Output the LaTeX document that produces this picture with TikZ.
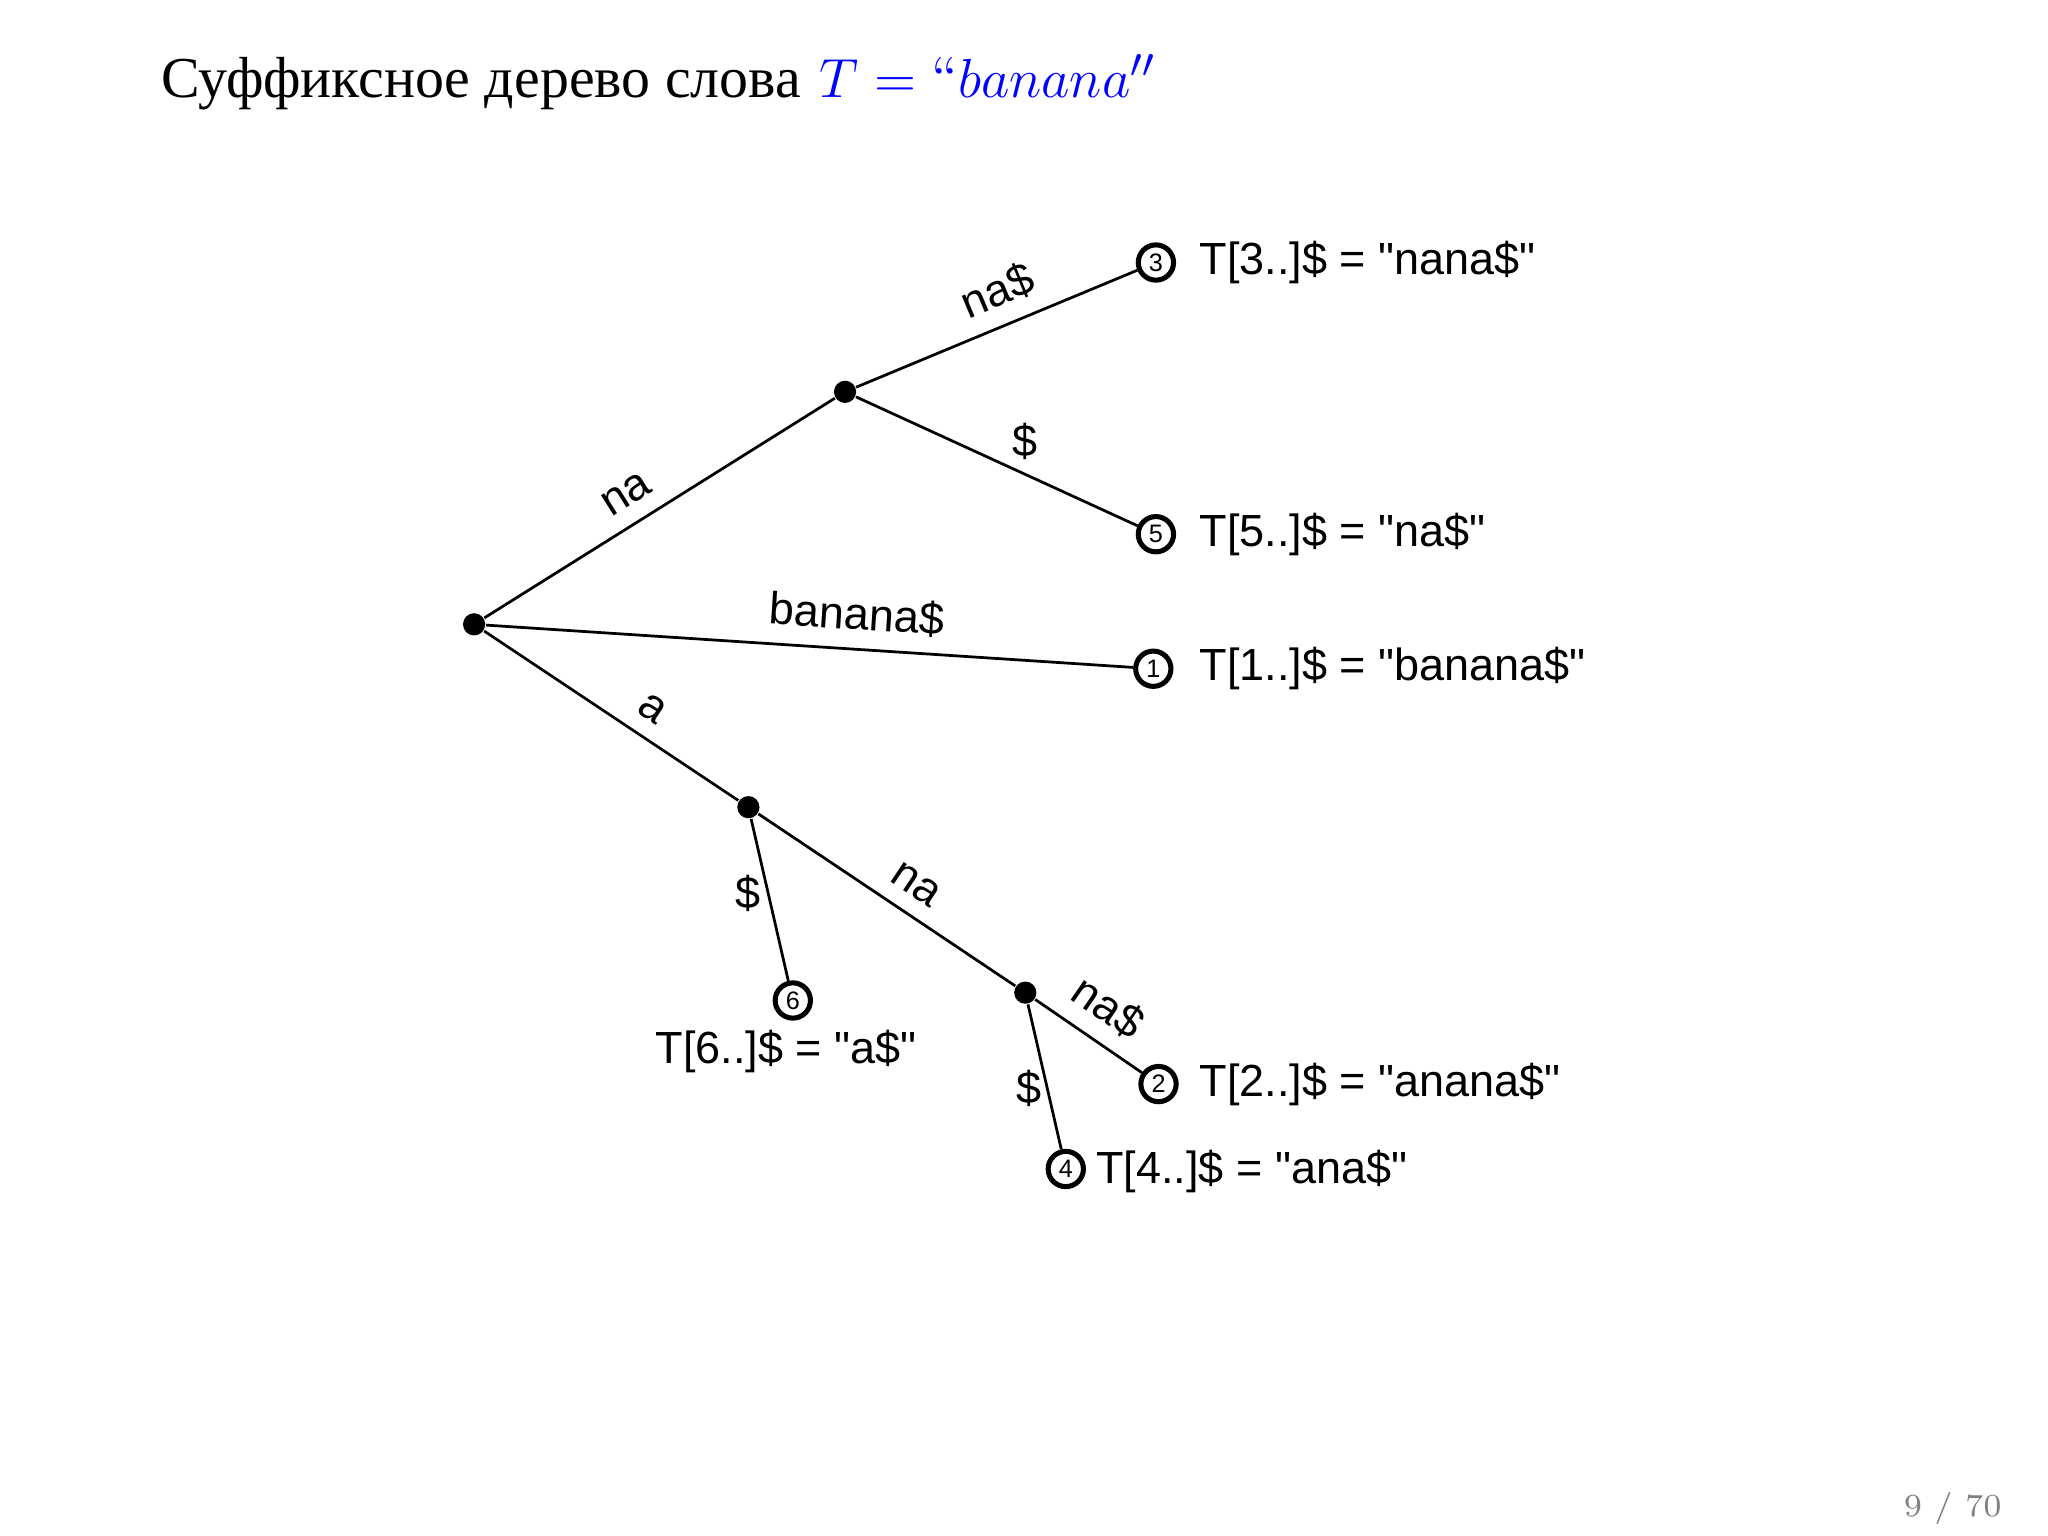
\documentclass[tikz,border=0pt]{standalone}
\usepackage{fontspec}
\setmainfont{Latin Modern Roman}
\newfontfamily\cyr{Liberation Serif}
\newfontfamily\arial{Liberation Sans}
\begin{document}
\begin{tikzpicture}[x=0.01cm,y=-0.01cm,
  inner/.style={circle,fill=black,inner sep=0pt,minimum size=0.17cm},
  leaf/.style={circle,draw,line width=1.1pt,inner sep=0pt,minimum size=0.27cm,font=\arial\fontsize{5.5}{6}\selectfont},
  lab/.style={font=\arial\fontsize{9.8}{12}\selectfont},
  edge/.style={line width=0.6pt}]
\useasboundingbox (0,0) rectangle (1568,1176);
\node[anchor=west,inner sep=0pt,font=\fontsize{12.6}{15}\selectfont] (title) at (123,63) {{\cyr Суффиксное дерево слова} \textcolor{blue}{$T=\mbox{``}banana''$}};
\node[anchor=east,text=gray,font=\fontsize{7}{8}\selectfont] (pg) at (1545,1155) {9 / 70};
\node[inner] (r) at (363,478) {};
\node[inner] (n1) at (647,300) {};
\node[leaf] (l3) at (885,201) {3};
\node[leaf] (l5) at (885,409) {5};
\node[leaf] (l1) at (883,512) {1};
\node[inner] (a) at (573,618) {};
\node[leaf] (l6) at (607,766) {6};
\node[inner] (n2) at (785,760) {};
\node[leaf] (l2) at (887,830) {2};
\node[leaf] (l4) at (816,895) {4};
\draw[edge] (r) -- node[lab,sloped,above,pos=0.45] {na} (n1);
\draw[edge] (n1) -- node[lab,sloped,above,pos=0.55] {na\$} (l3);
\draw[edge] (n1) -- (l5);
\draw[edge] (r) -- node[lab,sloped,above,pos=0.57] {banana\$} (l1);
\draw[edge] (r) -- node[lab,sloped,above,pos=0.6] {a} (a);
\draw[edge] (a) -- (l6);
\draw[edge] (a) -- node[lab,sloped,above,pos=0.55] {na} (n2);
\draw[edge] (n2) -- node[lab,sloped,above,pos=0.5] {na\$} (l2);
\draw[edge] (n2) -- (l4);
\node[lab] (d1) at (785,338) {\$};
\node[lab] (d2) at (573,684) {\$};
\node[lab] (d3) at (788,833) {\$};
\node[lab,anchor=west] (t3) at (906,201) {T[3..]\$ = "nana\$"};
\node[lab,anchor=west] (t5) at (906,409) {T[5..]\$ = "na\$"};
\node[lab,anchor=west] (t1) at (906,512) {T[1..]\$ = "banana\$"};
\node[lab,anchor=west] (t2) at (906,830) {T[2..]\$ = "anana\$"};
\node[lab,anchor=west] (t4) at (827,897) {T[4..]\$ = "ana\$"};
\node[lab] (t6) at (602,805) {T[6..]\$ = "a\$"};
\end{tikzpicture}
\end{document}
